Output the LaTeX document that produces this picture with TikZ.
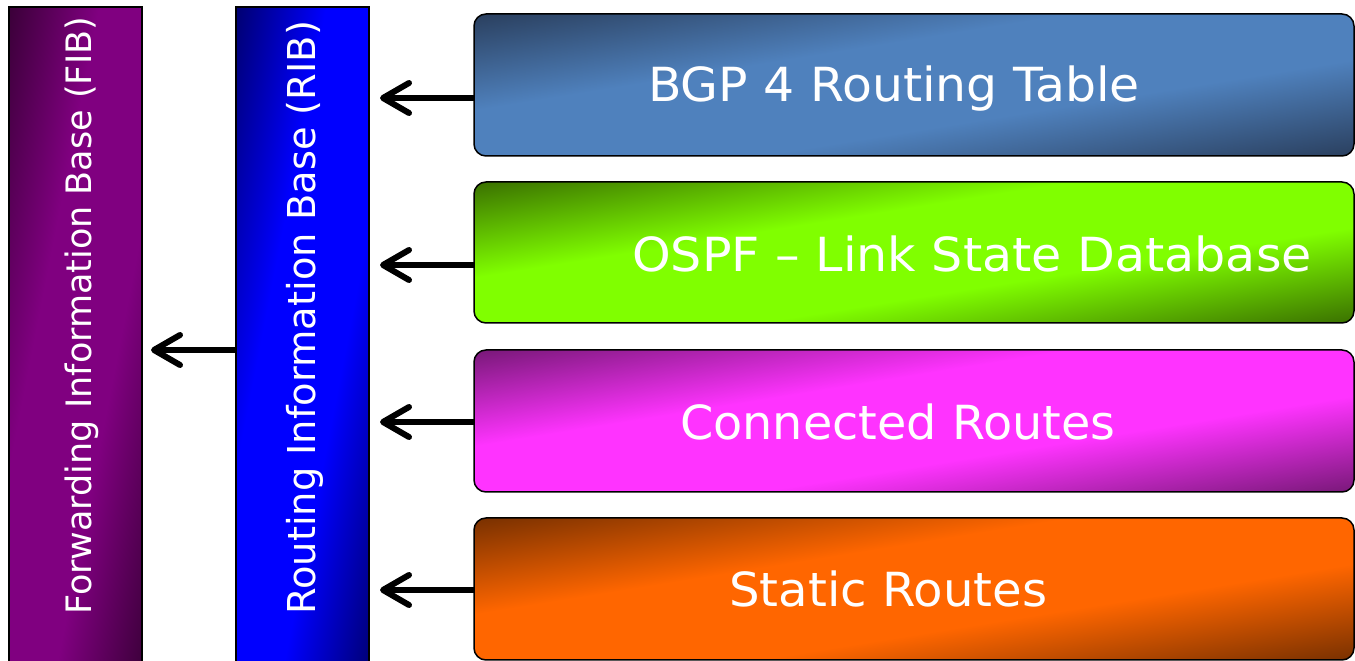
\documentclass[tikz,border=0pt]{standalone}
\usepackage{fontspec}
\setmainfont{DejaVu Sans}
\newfontfamily\fontbgp[FakeStretch=1.04]{DejaVu Sans}
\newfontfamily\fontospf[FakeStretch=1.045]{DejaVu Sans}
\newfontfamily\fontcon[FakeStretch=1.015]{DejaVu Sans}
\newfontfamily\fontsta[FakeStretch=1.025]{DejaVu Sans}
\usetikzlibrary{arrows.meta}
\definecolor{fibdark}{HTML}{3A0038}
\definecolor{fibmid}{HTML}{800080}
\definecolor{ribdark}{HTML}{000070}
\definecolor{ribmid}{HTML}{0000FF}
\definecolor{bgpdark}{HTML}{2A3F5E}
\definecolor{bgpmid}{HTML}{4F81BD}
\definecolor{ospfdark}{HTML}{3A7000}
\definecolor{ospfmid}{HTML}{80FF00}
\definecolor{condark}{HTML}{781878}
\definecolor{conmid}{HTML}{FF33FF}
\definecolor{stadark}{HTML}{783000}
\definecolor{stamid}{HTML}{FF6600}
\newcommand\mkshade[3]{\pgfdeclareverticalshading{#1}{100bp}{color(0bp)=(#2); color(25bp)=(#2); color(42bp)=(#3); color(58bp)=(#3); color(75bp)=(#2); color(100bp)=(#2)}}
\mkshade{fibshade}{fibdark}{fibmid}
\mkshade{ribshade}{ribdark}{ribmid}
\mkshade{bgpshade}{bgpdark}{bgpmid}
\mkshade{ospfshade}{ospfdark}{ospfmid}
\mkshade{conshade}{condark}{conmid}
\mkshade{stashade}{stadark}{stamid}
% #1 shading, #2 x0, #3 y0, #4 width, #5 height, #6 corner radius
\newcommand\shadedpanel[6]{%
  \begin{scope}
    \clip[rounded corners=#6pt] (#2,#3) rectangle ++(#4,#5);
    \pgfmathsetmacro\pnlA{#4/50}%
    \pgfmathsetmacro\pnlB{#5/50}%
    \pgfmathsetmacro\pnlD{#5/25}%
    \pgfmathsetmacro\pnlX{#2+#4/2}%
    \pgfmathsetmacro\pnlY{#3+#5/2}%
    \pgftransformcm{\pnlA}{\pnlB}{0}{\pnlD}{\pgfpoint{\pnlX pt}{\pnlY pt}}%
    \pgflowlevelsynccm
    \pgfuseshading{#1}%
  \end{scope}
  \draw[draw=black, line width=1.5pt, rounded corners=#6pt] (#2,#3) rectangle ++(#4,#5);
}
\tikzset{
  vlabel/.style={text=white, rotate=90, inner sep=0pt, anchor=base west},
  hlabel/.style={text=white, inner sep=0pt, anchor=base west},
  arr/.style={line width=6pt, -{Straight Barb[length=26pt,width=30pt,round]}},
}
\begin{document}
\begin{tikzpicture}[x=1pt,y=1pt]
\useasboundingbox (0,0) rectangle (1355,661);
% bars
\shadedpanel{fibshade}{9}{-29}{133}{683}{0}
\coordinate (fibE) at (142,311);
\shadedpanel{ribshade}{236}{-29}{133}{683}{0}
\coordinate (ribW) at (236,311);
\coordinate (ribE) at (369,311);
\node[vlabel, font=\fontsize{35}{36}\selectfont] (fibtext) at (91,46) {Forwarding Information Base (FIB)};
\node[vlabel, font=\fontsize{38.4}{40}\selectfont] (ribtext) at (315,46) {Routing Information Base (RIB)};
% source boxes
\shadedpanel{bgpshade}{474}{505}{880}{142}{12}
\coordinate (bgpW) at (474,563);
\shadedpanel{ospfshade}{474}{338}{880}{141}{12}
\coordinate (ospfW) at (474,396);
\shadedpanel{conshade}{474}{169}{880}{142}{12}
\coordinate (conW) at (474,239);
\shadedpanel{stashade}{474}{1}{880}{142}{12}
\coordinate (staW) at (474,71);
\node[hlabel, font=\fontbgp\fontsize{47}{50}\selectfont] (bgptext) at (648,559) {BGP 4 Routing Table};
\node[hlabel, font=\fontospf\fontsize{47}{50}\selectfont] (ospftext) at (632,389) {OSPF – Link State Database};
\node[hlabel, font=\fontcon\fontsize{47}{50}\selectfont] (context) at (680,221) {Connected Routes};
\node[hlabel, font=\fontsta\fontsize{47}{50}\selectfont] (statext) at (729,54) {Static Routes};
% arrows
\draw[arr, shorten >=11pt] (bgpW) -- (bgpW -| ribE);
\draw[arr, shorten >=11pt] (ospfW) -- (ospfW -| ribE);
\draw[arr, shorten >=11pt] (conW) -- (conW -| ribE);
\draw[arr, shorten >=11pt] (staW) -- (staW -| ribE);
\draw[arr, shorten >=9pt] (ribW) -- (fibE);
\end{tikzpicture}
\end{document}
